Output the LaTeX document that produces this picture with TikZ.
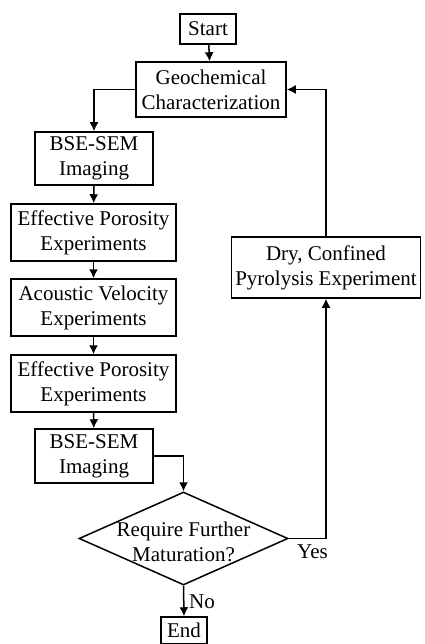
\documentclass[tikz,border=0pt]{standalone}
\usepackage{fontspec}
\setmainfont{Liberation Serif}
\usetikzlibrary{arrows.meta,shapes.geometric}
\begin{document}
\begin{tikzpicture}[x=1pt,y=-1pt,
  box/.style={draw, line width=1.5pt, align=center, inner sep=0pt,
    font=\fontsize{21}{25}\selectfont},
  lbl/.style={font=\fontsize{21}{25}\selectfont, inner sep=0pt},
  conn/.style={line width=1.5pt, -{Latex[length=9pt,width=9pt]}},
  plain/.style={line width=1.5pt}]
\useasboundingbox (0,0) rectangle (424,644);
\node[box, minimum width=56pt, minimum height=30pt] (start) at (208,29) {Start};
\node[box, minimum width=150pt, minimum height=55pt] (geo) at (211,89.5) {Geochemical\\Characterization};
\node[box, minimum width=118pt, minimum height=53pt] (bse1) at (94,158.5) {BSE-SEM\\Imaging};
\node[box, minimum width=165pt, minimum height=57pt] (ep1) at (93.5,232.5) {Effective Porosity\\Experiments};
\node[box, minimum width=165pt, minimum height=57pt] (ac) at (93.5,307.5) {Acoustic Velocity\\Experiments};
\node[box, minimum width=165pt, minimum height=57pt] (ep2) at (93.5,383.5) {Effective Porosity\\Experiments};
\node[box, minimum width=118pt, minimum height=54pt] (bse2) at (94,456) {BSE-SEM\\Imaging};
\node[diamond, draw, line width=1.5pt, minimum width=209pt, minimum height=93pt, inner sep=0pt] (dia) at (183.5,538.5) {};
\node[lbl, align=center] (diatext) at (183.5,542) {Require Further\\Maturation?};
\node[box, minimum width=189pt, minimum height=61pt] (dry) at (326,267.5) {Dry, Confined\\Pyrolysis Experiment};
\node[box, minimum width=46pt, minimum height=27pt] (end) at (184,630.5) {End};
\node[lbl, anchor=west] (yes) at (297,552) {Yes};
\node[lbl, anchor=west] (no) at (189,602) {No};
\draw[conn] (start) -- (geo);
\draw[conn] (geo.west) -| (bse1.north);
\draw[conn] (bse1) -- (ep1);
\draw[conn] (ep1) -- (ac);
\draw[conn] (ac) -- (ep2);
\draw[conn] (ep2) -- (bse2);
\draw[conn] (bse2.east) -| (dia.north);
\draw[conn] (dia.east) -| (dry.south);
\draw[conn] (dry.north) |- (geo.east);
\draw[conn] (dia.south) -- (end.north);
\end{tikzpicture}
\end{document}
